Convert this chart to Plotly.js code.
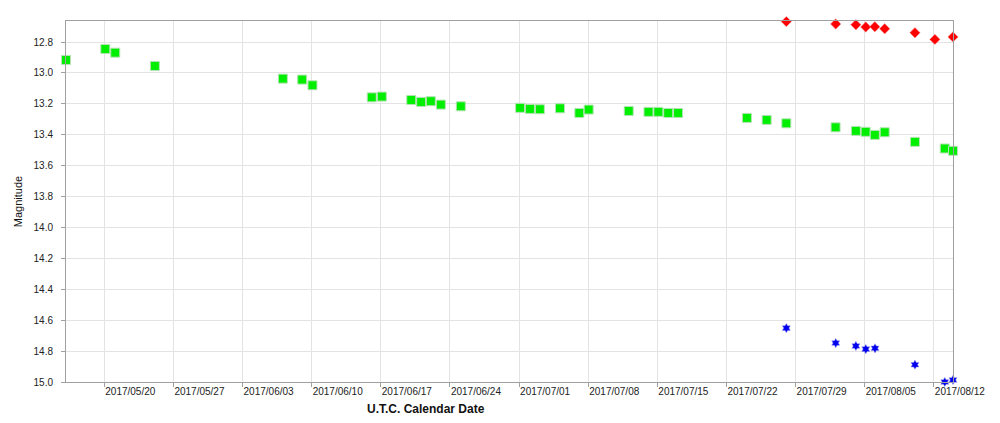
<!DOCTYPE html>
<html>
<head>
<meta charset="utf-8">
<script src="https://cdn.plot.ly/plotly-3.0.1.min.js"></script>
<style>html,body{margin:0;padding:0;background:#fff;}#chart{width:1000px;height:423px;}</style>
</head>
<body>
<div id="chart"></div>
<script>
// Green squares series
const greenDates = [
  '2017-05-16 03:00','2017-05-20 02:30','2017-05-21 02:40','2017-05-25 03:00',
  '2017-06-07 02:00','2017-06-09 01:00','2017-06-10 02:00',
  '2017-06-16 02:00','2017-06-17 02:30','2017-06-20 02:00','2017-06-21 02:00',
  '2017-06-22 01:30','2017-06-23 02:00','2017-06-25 02:30',
  '2017-07-01 02:30','2017-07-02 02:30','2017-07-03 02:30','2017-07-05 03:30',
  '2017-07-07 02:30','2017-07-08 01:10','2017-07-12 02:30','2017-07-14 02:30',
  '2017-07-15 02:30','2017-07-16 02:30','2017-07-17 02:30',
  '2017-07-24 01:40','2017-07-26 01:40','2017-07-28 01:30',
  '2017-08-02 01:10','2017-08-04 02:30','2017-08-05 02:10','2017-08-06 00:30',
  '2017-08-07 00:30','2017-08-10 02:00','2017-08-13 02:30','2017-08-13 22:30'
];
const greenMag = [
  12.916, 12.845, 12.869, 12.955,
  13.037, 13.043, 13.080,
  13.158, 13.153, 13.175, 13.188,
  13.183, 13.205, 13.216,
  13.226, 13.233, 13.235, 13.229,
  13.259, 13.237, 13.246, 13.252,
  13.252, 13.259, 13.259,
  13.291, 13.304, 13.326,
  13.352, 13.375, 13.381, 13.401,
  13.384, 13.446, 13.489, 13.504
];
// Red diamonds series
const redDates = [
  '2017-07-28 01:30','2017-08-02 01:30','2017-08-04 02:30','2017-08-05 02:30',
  '2017-08-06 00:30','2017-08-07 00:30','2017-08-10 02:00','2017-08-12 02:30',
  '2017-08-13 22:30'
];
const redMag = [12.668, 12.683, 12.688, 12.703, 12.701, 12.714, 12.740, 12.783, 12.767];
// Blue stars series
const blueDates = [
  '2017-07-28 01:30','2017-08-02 01:30','2017-08-04 02:30','2017-08-05 02:30',
  '2017-08-06 01:00','2017-08-10 02:00','2017-08-13 02:30','2017-08-13 22:30'
];
const blueMag = [14.651, 14.748, 14.767, 14.787, 14.782, 14.888, 15.000, 14.987];

const xRange = ['2017-05-16 03:00', '2017-08-13 22:30'];
const yRange = [15.0, 12.664];
const xTitle = 'U.T.C. Calendar Date';
const yTitle = 'Magnitude';

const traces = [
  {x: greenDates, y: greenMag, type: 'scatter', mode: 'markers', cliponaxis: false,
   marker: {symbol: 'square', size: 9, color: '#00ee00', line: {color: '#b5e3b5', width: 1}}},
  {x: redDates, y: redMag, type: 'scatter', mode: 'markers', cliponaxis: false,
   marker: {symbol: 'diamond', size: 8, color: '#ff0000', line: {color: '#f3a0a0', width: 0.5}}},
  {x: blueDates, y: blueMag, type: 'scatter', mode: 'markers', cliponaxis: false,
   marker: {symbol: 'hexagram', size: 7, color: '#0000ee', line: {color: '#9999ee', width: 0.5}}}
];

const layout = {
  width: 1000, height: 423,
  margin: {l: 66, r: 46.5, t: 20.7, b: 41.3, pad: 0},
  paper_bgcolor: '#fff', plot_bgcolor: '#fff',
  showlegend: false,
  font: {family: 'Liberation Sans, Arial, sans-serif', size: 10, color: '#222'},
  xaxis: {
    type: 'date', range: xRange,
    tick0: '2017-05-20', dtick: 7 * 86400000, tickformat: '%Y/%m/%d',
    ticklabelposition: 'outside right',
    showgrid: true, gridcolor: '#e3e3e3', gridwidth: 1,
    showline: true, linecolor: '#a0a0a0', linewidth: 1, mirror: true,
    ticks: 'outside', ticklen: 4, tickcolor: '#a0a0a0',
    zeroline: false, tickfont: {size: 10, color: '#222'}
  },
  yaxis: {
    range: yRange, tick0: 12.8, dtick: 0.2, tickformat: '.1f',
    showgrid: true, gridcolor: '#e3e3e3', gridwidth: 1,
    showline: true, linecolor: '#a0a0a0', linewidth: 1, mirror: true,
    ticks: 'outside', ticklen: 4, tickcolor: '#a0a0a0', ticklabelstandoff: 6,
    zeroline: false, tickfont: {size: 10, color: '#222'},
    title: {text: yTitle, font: {size: 11, color: '#111'}, standoff: 8}
  },
  annotations: [{
    text: '<b>' + xTitle + '</b>', xref: 'paper', yref: 'paper',
    x: 0.4056, y: -0.0756, xanchor: 'center', yanchor: 'middle',
    showarrow: false, font: {size: 12, color: '#111'}
  }]
};

Plotly.newPlot('chart', traces, layout, {displayModeBar: false, staticPlot: true});
</script>
</body>
</html>
